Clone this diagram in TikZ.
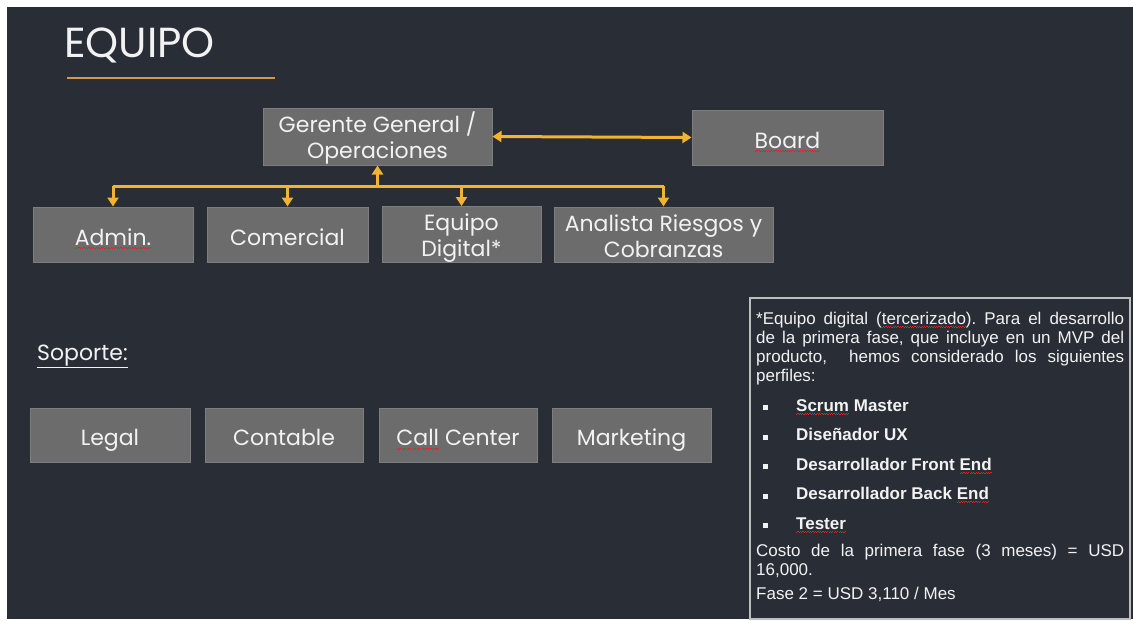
\documentclass[tikz,border=0pt]{standalone}
\usepackage{fontspec}
\setmainfont{Poppins}
\newfontfamily\notefont{Liberation Sans}
\usetikzlibrary{arrows.meta,positioning}
\definecolor{bg}{RGB}{41,45,53}
\definecolor{boxfill}{RGB}{108,108,108}
\definecolor{boxedge}{RGB}{126,126,126}
\definecolor{gold}{RGB}{240,180,50}
\definecolor{tan}{RGB}{214,150,75}
\definecolor{txt}{RGB}{242,242,242}
\definecolor{notebord}{RGB}{190,190,190}
\definecolor{spell}{RGB}{215,40,40}
\newsavebox\wordbox
\newcommand\squig[1]{\sbox\wordbox{#1}\rlap{\textcolor{spell}{\hbox to \wd\wordbox{\xleaders\hbox{\rule[-3.9pt]{1.2pt}{1pt}\rule[-2.9pt]{1.2pt}{1pt}}\hfill}}}\usebox\wordbox}
\newcommand\boxfont{\fontsize{22}{26}\selectfont}
\newcommand\hi{\rule{0pt}{24pt}}
\newcommand\lo{\rule[-5pt]{0pt}{5pt}}
\newcommand\perfil[2][10.5pt]{\par\vspace{#1}\noindent\hspace*{7pt}\rule[1pt]{5pt}{5pt}\hspace{28pt}\textbf{#2}}
\tikzset{>={Triangle[length=9pt,width=11pt]}, link/.style={draw=gold, line width=3pt},
box/.style={draw=boxedge, line width=1pt, fill=boxfill, text=txt, font=\boxfont, align=center, inner sep=0pt, minimum height=55pt},
single/.style={box, text height=29pt, text depth=7.8pt},
note/.style={text=txt, font=\notefont\fontsize{17}{19}\selectfont\frenchspacing, text width=368pt, inner sep=0pt, align=justify}}

\begin{document}
\begin{tikzpicture}[x=1pt, y=-1pt]
\useasboundingbox (0,0) rectangle (1133,621);
\fill[white] (0,0) rectangle (1133,621);
\fill[bg] (7,7) rectangle (1133,619);

% Title
\node[anchor=base west, text=txt, font=\fontsize{42}{46}\selectfont, inner sep=0pt] (titulo) at (64,57) {EQUIPO};
\draw[tan, line width=2.5pt] (67,78) -- (275,78);

% Boxes
\node[box, minimum width=229pt, minimum height=57pt] (gerente) at (377.5,136.5) {\hi Gerente General /\\Operaciones\lo};
\node[single, minimum width=191pt] (board) at (787.5,137.5) {\squig{Board}};

\node[single, minimum width=160pt] (admin) at (113,234.5) {\squig{Admin.}};
\node[single, minimum width=161pt, right=13pt of admin] (comercial) {Comercial};
\node[box, minimum width=159pt, right=13pt of comercial] (digital) {\hi Equipo\\Digital*\lo};
\node[box, minimum width=219pt, right=12pt of digital] (analista) {\hi Analista Riesgos y\\Cobranzas\lo};

% Support
\node[anchor=base west, text=txt, font=\boxfont, inner sep=0pt] (soporte) at (37,360) {\underline{Soporte:}};
\node[single, minimum width=160pt, minimum height=54pt] (legal) at (110,435) {Legal};
\node[single, minimum width=158pt, minimum height=54pt, right=14pt of legal] (contable) {Contable};
\node[single, minimum width=158pt, minimum height=54pt, right=15pt of contable] (callcenter) {\squig{Call} Center};
\node[single, minimum width=159pt, minimum height=54pt, right=14pt of callcenter] (marketing) {Marketing};

% Links
\coordinate (bus) at (0,186);
\draw[link, <->] (gerente.east) -- (board.west);
\draw[link] (admin.north |- bus) -- (analista.north |- bus);
\draw[link, ->] (gerente.south |- bus) -- (gerente.south);
\foreach \n in {admin, comercial, digital, analista}
  \draw[link, ->] (\n.north |- bus) -- (\n.north);

% Note
\draw[notebord, line width=1.2pt, fill=bg] (750,298) rectangle (1130,619);
\node[note, anchor=north west] (nota) at (756,312) {%
*Equipo digital (\squig{tercerizado}). Para el desarrollo\linebreak
de la primera fase, que incluye en un MVP del\linebreak
producto,\ \ hemos considerado los siguientes\linebreak
perfiles:
\perfil{\squig{Scrum} Master}
\perfil{Diseñador UX}
\perfil{Desarrollador Front \squig{End}}
\perfil{Desarrollador Back \squig{End}}
\perfil{\squig{Tester}}
\par\vspace{8pt}
Costo de la primera fase (3 meses) = USD\linebreak
16,000.\par\vspace{5pt}
Fase 2 = USD 3,110 / Mes};
\end{tikzpicture}
\end{document}
